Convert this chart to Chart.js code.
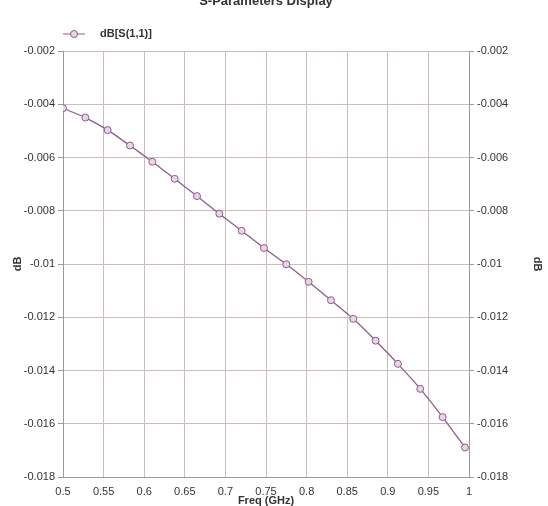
<!DOCTYPE html>
<html>
<head>
<meta charset="utf-8">
<script src="https://cdn.jsdelivr.net/npm/chart.js@4.4.1/dist/chart.umd.min.js"></script>
<style>
  html, body { margin: 0; padding: 0; background: #fff; overflow: hidden; }
  #wrap { width: 548px; height: 506px; position: relative; }
</style>
</head>
<body>
<div id="wrap"><canvas id="chart" width="548" height="506"></canvas></div>
<script>
// S-Parameters Display — dB[S(1,1)] vs frequency

const freqGHz = [0.5, 0.5275, 0.555, 0.5825, 0.61, 0.6375, 0.665, 0.6925, 0.72, 0.7475,
  0.775, 0.8025, 0.83, 0.8575, 0.885, 0.9125, 0.94, 0.9675, 0.995];
const s11dB = [-0.00415, -0.0045, -0.00497, -0.00555, -0.00616, -0.0068, -0.00745, -0.00811, -0.00875, -0.0094,
  -0.01001, -0.01067, -0.01136, -0.01206, -0.01288, -0.01375, -0.01469, -0.01575, -0.01689];

const xTickValues = [0.5, 0.55, 0.6, 0.65, 0.7, 0.75, 0.8, 0.85, 0.9, 0.95, 1];
const xTickLabels = ["0.5", "0.55", "0.6", "0.65", "0.7", "0.75", "0.8", "0.85", "0.9", "0.95", "1"];
const yTickValues = [-0.018, -0.016, -0.014, -0.012, -0.01, -0.008, -0.006, -0.004, -0.002];
const yTickLabels = ["-0.018", "-0.016", "-0.014", "-0.012", "-0.01", "-0.008", "-0.006", "-0.004", "-0.002"];

const TITLE = "S-Parameters Display";
const SERIES_NAME = "dB[S(1,1)]";
const FONT = "'Liberation Sans', Arial, sans-serif";
const LINE_COLOR = "#8f5c8b";
const MARKER_FILL = "#e8d5e5";
const GRID_COLOR = "#cbbdbd";
const AXIS_COLOR = "#9a9a9a";
const TEXT_COLOR = "#333";

function setTicks(values) {
  return (scale) => { scale.ticks = values.map((v) => ({ value: v })); };
}

// title (clipped at the top edge) and legend drawn by hand so they sit where the original has them
const headerPlugin = {
  id: "header",
  afterDraw(chart) {
    const ctx = chart.ctx;
    const area = chart.chartArea;
    ctx.save();
    ctx.fillStyle = TEXT_COLOR;
    ctx.font = "bold 13px " + FONT;
    ctx.textAlign = "center";
    ctx.textBaseline = "alphabetic";
    ctx.fillText(TITLE, (area.left + area.right) / 2, 5);

    const ly = 34;
    const lx = area.left;
    ctx.strokeStyle = LINE_COLOR;
    ctx.lineWidth = 1;
    ctx.beginPath();
    ctx.moveTo(lx, ly);
    ctx.lineTo(lx + 22, ly);
    ctx.stroke();
    ctx.beginPath();
    ctx.arc(lx + 11, ly, 3.5, 0, Math.PI * 2);
    ctx.fillStyle = MARKER_FILL;
    ctx.fill();
    ctx.stroke();

    ctx.fillStyle = TEXT_COLOR;
    ctx.font = "bold 11px " + FONT;
    ctx.textAlign = "left";
    ctx.textBaseline = "middle";
    ctx.fillText(SERIES_NAME, lx + 37, ly);
    ctx.restore();
  }
};

const tickFont = { family: FONT, size: 11 };
const titleFont = { family: FONT, size: 11, weight: "bold" };

new Chart(document.getElementById("chart"), {
  type: "line",
  data: {
    datasets: [{
      label: SERIES_NAME,
      data: freqGHz.map((f, i) => ({ x: f, y: s11dB[i] })),
      borderColor: LINE_COLOR,
      borderWidth: 1.3,
      pointRadius: 3.5,
      pointBackgroundColor: MARKER_FILL,
      pointBorderColor: LINE_COLOR,
      pointBorderWidth: 1,
      tension: 0.2,
      yAxisID: "y",
    }],
  },
  options: {
    responsive: false,
    animation: false,
    layout: { padding: { top: 51, left: 0, right: 0, bottom: 0 } },
    plugins: {
      legend: { display: false },
      title: { display: false },
      tooltip: { enabled: false },
    },
    scales: {
      x: {
        type: "linear",
        min: 0.5,
        max: 1,
        afterBuildTicks: setTicks(xTickValues),
        afterFit: (s) => { s.height = 29; },
        grid: { color: GRID_COLOR, drawTicks: false },
        border: { color: AXIS_COLOR },
        ticks: {
          color: TEXT_COLOR, font: tickFont, padding: 8, maxRotation: 0, autoSkip: false,
          callback: (v, i) => xTickLabels[i],
        },
        title: { display: true, text: "Freq (GHz)", color: TEXT_COLOR, font: titleFont, padding: { top: 0, bottom: -2 } },
      },
      y: {
        position: "left",
        min: -0.018,
        max: -0.002,
        afterBuildTicks: setTicks(yTickValues),
        afterFit: (s) => { s.width = 63; },
        grid: { color: GRID_COLOR, tickLength: 5, tickColor: AXIS_COLOR },
        border: { color: AXIS_COLOR },
        ticks: {
          color: TEXT_COLOR, font: tickFont, padding: 3, autoSkip: false,
          callback: (v, i) => yTickLabels[i],
        },
        title: { display: true, text: "dB", color: TEXT_COLOR, font: titleFont, padding: { top: 11, bottom: 0 } },
      },
      y2: {
        position: "right",
        min: -0.018,
        max: -0.002,
        afterBuildTicks: setTicks(yTickValues),
        afterFit: (s) => { s.width = 79; },
        grid: { drawOnChartArea: false, tickLength: 5, tickColor: AXIS_COLOR },
        border: { color: AXIS_COLOR },
        ticks: {
          color: TEXT_COLOR, font: tickFont, padding: 3, autoSkip: false,
          callback: (v, i) => yTickLabels[i],
        },
        title: { display: true, text: "dB", color: TEXT_COLOR, font: titleFont, padding: { top: 4, bottom: 0 } },
      },
    },
  },
  plugins: [headerPlugin],
});
</script>
</body>
</html>
